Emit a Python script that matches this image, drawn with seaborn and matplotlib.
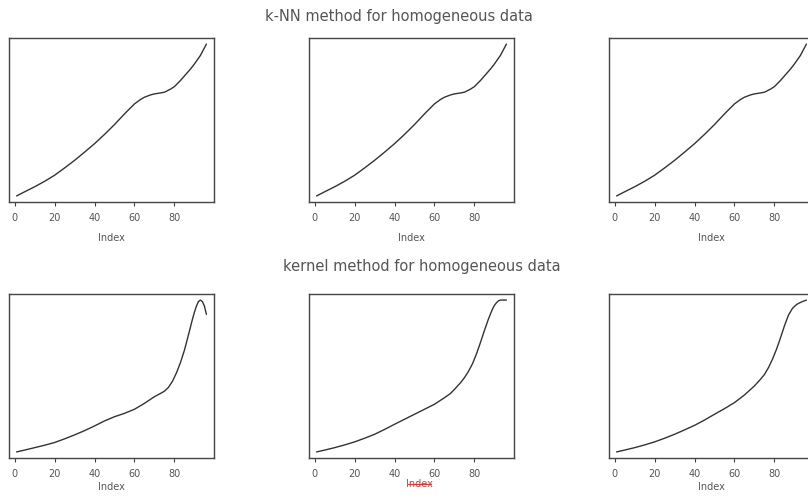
import matplotlib
matplotlib.use("Agg")
import matplotlib.pyplot as plt
from matplotlib.lines import Line2D
import seaborn as sns

# k-NN estimate (same curve in all three top panels), scaled 0..1
knn_index = [1, 5, 10, 15, 20, 25, 30, 35, 40, 45, 50, 55, 58, 60, 63, 65, 68,
             70, 73, 75, 78, 80, 83, 85, 88, 90, 93, 96]
knn_value = [0.0, 0.027, 0.06, 0.096, 0.136, 0.184, 0.234, 0.288, 0.344, 0.405,
             0.47, 0.54, 0.58, 0.606, 0.635, 0.65, 0.665, 0.672, 0.678, 0.683,
             0.703, 0.72, 0.76, 0.79, 0.835, 0.869, 0.925, 1.0]

# kernel estimates, bottom row
kern1_index = [1, 5, 10, 15, 20, 25, 30, 35, 40, 45, 50, 55, 60, 65, 70, 73, 75,
               77, 79, 81, 83, 85, 87, 89, 90, 91, 92, 93, 94, 95, 96]
kern1_value = [0.0, 0.012, 0.028, 0.044, 0.062, 0.086, 0.112, 0.14, 0.171, 0.204,
               0.232, 0.254, 0.281, 0.32, 0.364, 0.385, 0.40, 0.425, 0.465, 0.52,
               0.588, 0.67, 0.77, 0.873, 0.92, 0.96, 0.99, 1.0, 0.99, 0.96, 0.906]

kern2_index = [1, 5, 10, 15, 20, 25, 30, 35, 40, 45, 50, 55, 60, 65, 68, 70, 73,
               75, 77, 79, 81, 83, 85, 87, 89, 90, 91, 92, 93, 94, 96]
kern2_value = [0.0, 0.012, 0.028, 0.046, 0.066, 0.09, 0.116, 0.148, 0.182, 0.215,
               0.248, 0.281, 0.314, 0.357, 0.385, 0.412, 0.455, 0.489, 0.53, 0.58,
               0.645, 0.72, 0.8, 0.875, 0.94, 0.965, 0.982, 0.995, 1.0, 1.0, 1.0]

kern3_index = [1, 5, 10, 15, 20, 25, 30, 35, 40, 45, 50, 55, 60, 65, 70, 73, 75,
               77, 79, 81, 83, 85, 87, 89, 91, 92, 94, 96]
kern3_value = [0.0, 0.012, 0.028, 0.046, 0.066, 0.09, 0.116, 0.145, 0.175, 0.21,
               0.248, 0.285, 0.325, 0.375, 0.435, 0.478, 0.51, 0.555, 0.61, 0.675,
               0.75, 0.83, 0.9, 0.945, 0.97, 0.978, 0.99, 1.0]

x_ticks = [0, 20, 40, 60, 80]

top_title = "k-NN method for homogeneous data"
bottom_title = "kernel method for homogeneous data"

sns.set_style("ticks")
plt.rcParams['font.family'] = ['DejaVu Sans']

W, H = 808, 500
fig = plt.figure(figsize=(W / 100, H / 100), dpi=100)

col_left = [9, 309, 609]
ax_w = 205
row_top = [38, 294]
ax_h = 164
label_pad = [7, 2]

series = [
    [(knn_index, knn_value)] * 3,
    [(kern1_index, kern1_value), (kern2_index, kern2_value), (kern3_index, kern3_value)],
]

line_col = "#333333"
text_col = "#555555"
red = "#d04040"

for r in range(2):
    for c in range(3):
        left = col_left[c] / W
        bottom = 1 - (row_top[r] + ax_h) / H
        ax = fig.add_axes([left, bottom, ax_w / W, ax_h / H])
        xs, ys = series[r][c]
        sns.lineplot(x=xs, y=ys, ax=ax, color=line_col, linewidth=1.0)
        ax.set_xlim(-2.8, 99.8)
        ax.set_ylim(-0.04, 1.04)
        ax.set_xticks(x_ticks)
        ax.set_xticklabels([str(t) for t in x_ticks])
        ax.set_yticks([])
        ax.tick_params(axis='x', direction='out', length=3, width=0.8,
                       color="#444444", labelsize=7, labelcolor=text_col, pad=5)
        for sp in ax.spines.values():
            sp.set_color("#444444")
            sp.set_linewidth(1.0)
        if r == 1 and c == 1:
            ax.set_xlabel("")
        else:
            ax.set_xlabel("Index", fontsize=7, color=text_col, labelpad=label_pad[r])

# the struck-through red label under the middle kernel panel
fig.text(419 / W, 1 - 484 / H, "Index", ha="center", va="center",
         fontsize=7, color=red)
fig.add_artist(Line2D([408 / W, 431 / W], [1 - 484 / H, 1 - 484 / H],
                      color=red, linewidth=0.9))

fig.text(399 / W, 1 - 17 / H, top_title, ha="center", va="center",
         fontsize=10.5, color="#555555")
fig.text(422 / W, 1 - 267 / H, bottom_title, ha="center", va="center",
         fontsize=10.5, color="#555555")

fig.savefig("out.png", dpi=100)
